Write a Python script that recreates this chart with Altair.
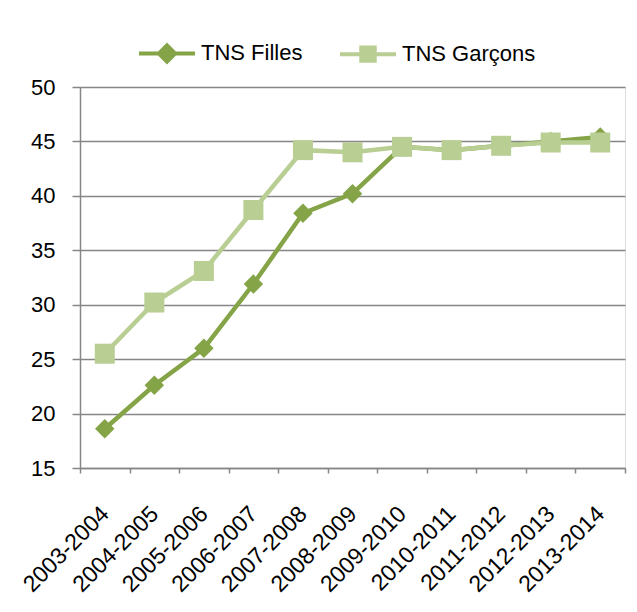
import altair as alt
import pandas as pd

seasons = ["2003-2004", "2004-2005", "2005-2006", "2006-2007", "2007-2008",
           "2008-2009", "2009-2010", "2010-2011", "2011-2012", "2012-2013", "2013-2014"]
filles = [18.6, 22.6, 26.0, 31.9, 38.4, 40.2, 44.5, 44.2, 44.6, 45.0, 45.4]
garcons = [25.5, 30.2, 33.1, 38.7, 44.2, 44.0, 44.5, 44.2, 44.6, 44.9, 44.9]
series_names = ["TNS Filles", "TNS Garçons"]
colors = ["#84A447", "#B8CE93"]
y_ticks = [15, 20, 25, 30, 35, 40, 45, 50]

rows = []
for s, f, g in zip(seasons, filles, garcons):
    rows.append({"season": s, "series": series_names[0], "value": f})
    rows.append({"season": s, "series": series_names[1], "value": g})
df = pd.DataFrame(rows)

FONT = "Liberation Sans Narrow, Arial Narrow, Liberation Sans, sans-serif"

x_enc = alt.X("season:N", sort=seasons, bandPosition=0.5,
              scale=alt.Scale(type="band", domain=seasons, paddingInner=0, paddingOuter=0),
              axis=alt.Axis(title=None, labelAngle=-45, labelAlign="right", labelBaseline="middle",
                            labelPadding=37, tickBand="extent", tickSize=5, grid=False,
                            labelOverlap=False, labelBound=False,
                            domainColor="#868686", tickColor="#868686", domainWidth=1.5, tickWidth=1.5,
                            labelFont=FONT, labelFontSize=23, labelColor="#000000"))
y_enc = alt.Y("value:Q",
              scale=alt.Scale(domain=[15, 50], nice=False, zero=False),
              axis=alt.Axis(title=None, values=y_ticks, tickSize=8, labelPadding=17,
                            grid=True, gridColor="#868686", gridWidth=1.5,
                            domainColor="#868686", tickColor="#868686", domainWidth=1.5, tickWidth=1.5,
                            labelFont=FONT, labelFontSize=22, labelColor="#000000"))

color_scale = alt.Scale(domain=series_names, range=colors)

base = alt.Chart(df)

lines = base.mark_line(strokeWidth=4.5).encode(
    x=x_enc, y=y_enc,
    color=alt.Color("series:N", scale=color_scale, legend=None),
)

pts_f = base.mark_point(filled=True, opacity=1, size=380, shape="diamond").encode(
    x=x_enc, y=y_enc,
    color=alt.Color("series:N", scale=color_scale, legend=None),
).transform_filter(alt.datum.series == series_names[0])

pts_g = base.mark_point(filled=True, opacity=1, size=400, shape="square").encode(
    x=x_enc, y=y_enc,
    color=alt.Color("series:N", scale=color_scale, legend=None),
).transform_filter(alt.datum.series == series_names[1])

legend_paths = [
    "M-1,0H1M0,-0.29L0.29,0L0,0.29L-0.29,0Z",
    "M-1,0H1M-0.24,-0.24H0.24V0.24H-0.24Z",
]
leg = alt.Legend(title=None, orient="none", legendX=57, legendY=-64, direction="horizontal",
                 symbolSize=3136, symbolStrokeWidth=4, symbolOpacity=1,
                 labelFont=FONT, labelFontSize=22,
                 labelColor="#000000", labelOffset=4, columnPadding=29)

# invisible marks that only carry the legend
legend_layer = base.mark_point(filled=True, opacity=0).encode(
    x=x_enc, y=y_enc,
    fill=alt.Fill("series:N", scale=alt.Scale(domain=series_names, range=colors), legend=leg),
    stroke=alt.Stroke("series:N", scale=alt.Scale(domain=series_names, range=colors), legend=leg),
    shape=alt.Shape("series:N", scale=alt.Scale(domain=series_names, range=legend_paths), legend=leg),
)

chart = alt.layer(legend_layer, lines, pts_f, pts_g).properties(
    width=545, height=381,
    padding={"left": 72, "top": 79, "right": 4, "bottom": 136},
    autosize="none",
).configure_view(stroke=None).configure(background="white")

chart.save("out.html", embed_options={"renderer": "svg", "actions": False})
